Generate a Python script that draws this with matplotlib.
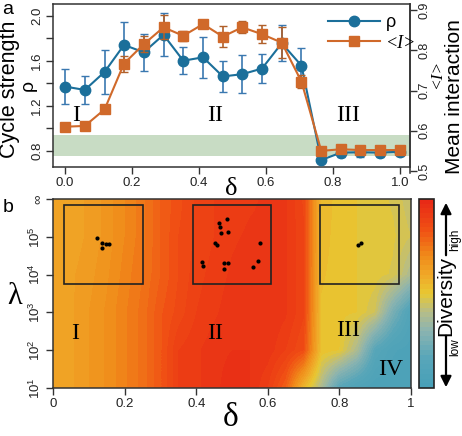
import numpy as np
import matplotlib
matplotlib.use("Agg")
import matplotlib.pyplot as plt
from matplotlib.colors import LinearSegmentedColormap
from matplotlib.patches import Rectangle
from matplotlib.lines import Line2D

plt.rcParams['font.family'] = ['Liberation Sans', 'DejaVu Sans']
plt.rcParams['mathtext.fontset'] = 'custom'
plt.rcParams['mathtext.rm'] = 'Liberation Sans'
plt.rcParams['mathtext.it'] = 'Liberation Sans:italic'

# ---- panel a data ----
delta_a = [0.0, 0.059, 0.118, 0.176, 0.235, 0.294, 0.353, 0.412, 0.471,
           0.529, 0.588, 0.647, 0.706, 0.765, 0.824, 0.882, 0.941, 1.0]
rho = [1.37, 1.34, 1.50, 1.74, 1.675, 1.83, 1.60, 1.63, 1.46,
       1.48, 1.53, 1.755, 1.556, 0.717, 0.783, 0.786, 0.783, 0.791]
rho_err = [0.155, 0.125, 0.195, 0.205, 0.165, 0.19, 0.12, 0.185, 0.14,
           0.17, 0.13, 0.16, 0.16, 0.0, 0.04, 0.04, 0.04, 0.04]
mean_I = [0.610, 0.612, 0.653, 0.767, 0.815, 0.857, 0.836, 0.865, 0.834,
          0.857, 0.840, 0.819, 0.722, 0.550, 0.554, 0.552, 0.552, 0.552]
mean_I_err = [0.004, 0.004, 0.006, 0.02, 0.02, 0.03, 0.013, 0.01, 0.027,
              0.015, 0.023, 0.038, 0.016, 0.005, 0.005, 0.005, 0.005, 0.005]
band = (0.75, 0.94)

# ---- panel b data ----
delta_b = [0.0, 0.05, 0.1, 0.15, 0.2, 0.25, 0.3, 0.35, 0.4, 0.45, 0.5,
           0.55, 0.6, 0.65, 0.7, 0.75, 0.8, 0.85, 0.9, 0.95, 1.0]
log_lambda = [1, 2, 3, 4, 5, 6]
diversity = [
    [.60, .62, .65, .68, .72, .76, .82, .90, .92, .94, .97, .95, .90, .80, .55, .38, .15, .08, .05, .05, .05],
    [.60, .62, .65, .68, .72, .76, .82, .90, .92, .94, .95, .95, .94, .90, .85, .52, .50, .38, .15, .08, .06],
    [.60, .62, .65, .68, .72, .76, .82, .86, .90, .92, .94, .95, .95, .93, .88, .52, .51, .50, .45, .25, .10],
    [.60, .62, .64, .67, .71, .75, .80, .85, .89, .91, .93, .94, .94, .93, .88, .53, .51, .50, .49, .47, .38],
    [.60, .61, .63, .66, .70, .74, .80, .85, .88, .90, .92, .93, .93, .93, .88, .54, .51, .50, .49, .48, .45],
    [.60, .61, .63, .66, .70, .74, .80, .84, .88, .90, .91, .92, .93, .93, .87, .55, .51, .50, .49, .47, .43],
]
# inset boxes (delta left, delta right) and attractor points
box_x = [(0.03, 0.25), (0.39, 0.61), (0.747, 0.967)]
box_y = (3.76, 5.84)
dots_d = [0.122, 0.136, 0.136, 0.149, 0.157,
          0.415, 0.420, 0.453, 0.457, 0.464, 0.466, 0.468, 0.485, 0.488,
          0.478, 0.478, 0.490, 0.579, 0.572, 0.560,
          0.852, 0.860]
dots_l = [4.98, 4.84, 4.70, 4.81, 4.80,
          4.34, 4.23, 4.84, 4.78, 5.36, 5.27, 5.09, 5.46, 5.13,
          4.32, 4.14, 4.32, 4.83, 4.37, 4.19,
          4.79, 4.83]

blue = '#1b6f9a'
orange = '#d0692a'
green = '#c8dcc4'
spine = '#333333'

W, H = 462, 436
fig = plt.figure(figsize=(4.62, 4.36), dpi=100)


def box(l, t, r, b):
    return [l / W, 1 - b / H, (r - l) / W, (b - t) / H]


def ftext(x, y, s, **kw):
    fig.text(x / W, 1 - y / H, s, ha='center', va='center', **kw)


def style(a):
    for s in a.spines.values():
        s.set_color(spine)
        s.set_linewidth(1.1)
    a.tick_params(direction='out', length=5, width=1, color=spine,
                  labelsize=9.5, labelcolor='#222222', pad=2)


# ---------- panel a ----------
ax = fig.add_axes(box(53, 4, 410, 167))
style(ax)
ax.axhspan(band[0], band[1], color=green, lw=0, zorder=0)
ax.errorbar(delta_a, rho, yerr=rho_err, color=blue, marker='o', ms=7.5,
            lw=1.5, capsize=3, elinewidth=1.2, ecolor='#3a78b0', zorder=3)
ax.set_xlim(-0.036, 1.03)
ax.set_ylim(0.655, 2.104)
ax.set_xticks([0, 0.2, 0.4, 0.6, 0.8, 1.0])
ax.set_xticklabels(['0.0', '0.2', '0.4', '0.6', '0.8', '1.0'])
yt = [0.8, 1.0, 1.2, 1.4, 1.6, 1.8, 2.0]
ax.set_yticks(yt)
ax.set_yticklabels(['0.8', '', '1.2', '', '1.6', '', '2.0'], rotation=90, va='center')

ax2 = fig.add_axes(box(53, 4, 410, 173))
style(ax2)
ax2.tick_params(labelsize=9, pad=1)
ax2.patch.set_visible(False)
for s in ['left', 'top', 'bottom']:
    ax2.spines[s].set_visible(False)
ax2.errorbar(delta_a, mean_I, yerr=mean_I_err, color=orange, marker='s', ms=6.5,
             lw=1.5, capsize=3, elinewidth=1.2, ecolor='#b0602a', zorder=3)
ax2.set_xlim(-0.036, 1.03)
ax2.set_ylim(0.495, 0.915)
ax2.set_xticks([])
ax2.yaxis.tick_right()
ax2.set_yticks([0.5, 0.6, 0.7, 0.8, 0.9])
ax2.set_yticklabels(['0.5', '0.6', '0.7', '0.8', '0.9'], rotation=90, va='center')

for s, xx in [('I', 0.033), ('II', 0.448), ('III', 0.845)]:
    ax.text(xx, 1.117, s, ha='center', va='center', family='Liberation Serif', fontsize=17)

handles = [Line2D([], [], color=blue, marker='o', ms=7.5, lw=1.5),
           Line2D([], [], color=orange, marker='s', ms=6.5, lw=1.5)]
leg = ax2.legend(handles, ['ρ', '<I>'], loc='upper left', frameon=False,
                 bbox_to_anchor=(328 / W, 1 - 14 / H), bbox_transform=fig.transFigure,
                 borderpad=0, borderaxespad=0,
                 handlelength=2.9, handletextpad=0.3, labelspacing=0.2, fontsize=13)
leg.get_texts()[1].set_fontfamily('Liberation Serif')
leg.get_texts()[1].set_fontstyle('italic')

ftext(10, 89, 'Cycle strength', rotation=90, fontsize=15.5)
ftext(28, 85, 'ρ', rotation=90, fontsize=14)
ftext(437, 74, '<I>', rotation=90, fontsize=12.5, family='Liberation Serif', style='italic')
ftext(454, 97, 'Mean interaction', rotation=90, fontsize=15)
ftext(231, 189, 'δ', fontsize=19, family='Liberation Serif')
ftext(8, 9, 'a', fontsize=14)

# ---------- panel b ----------
stops = [(0.0, '#48a0b8'), (0.15, '#58a6b9'), (0.3, '#8cb4b0'), (0.4, '#b6bd88'),
         (0.5, '#e8c832'), (0.6, '#f0a828'), (0.7, '#f08c1a'), (0.85, '#f04e14'),
         (1.0, '#e82a16')]
cmap = LinearSegmentedColormap.from_list('div', stops, N=40)

axb = fig.add_axes(box(53, 199, 411, 388))
style(axb)
im = axb.imshow(np.array(diversity), extent=[-0.025, 1.025, 0.5, 6.5], origin='lower',
                aspect='auto', interpolation='bilinear', cmap=cmap, vmin=0, vmax=1)
axb.set_xlim(0, 1)
axb.set_ylim(1, 6)
for x0, x1 in box_x:
    axb.add_patch(Rectangle((x0, box_y[0]), x1 - x0, box_y[1] - box_y[0],
                            fill=False, lw=1.2, ec='#222222'))
axb.scatter(dots_d, dots_l, s=9, color='k', lw=0, zorder=4)
for s, xx, yy in [('I', 0.061, 2.45), ('II', 0.452, 2.45), ('III', 0.824, 2.53), ('IV', 0.944, 1.48)]:
    axb.text(xx, yy, s, ha='center', va='center', family='Liberation Serif', fontsize=17)
axb.set_xticks([0, 0.2, 0.4, 0.6, 0.8, 1.0])
axb.set_xticklabels(['0', '0.2', '0.4', '0.6', '0.8', '1'])
axb.set_yticks(log_lambda)
axb.set_yticklabels([r'$\mathregular{10^{%d}}$' % v for v in log_lambda[:-1]] + ['∞'],
                    rotation=90, va='center')
ftext(15, 296, 'λ', fontsize=22, family='Liberation Serif')
ftext(231, 418, 'δ', fontsize=24, family='Liberation Serif')
ftext(8, 207, 'b', fontsize=14)

cax = fig.add_axes(box(419, 199, 434, 388))
cb = fig.colorbar(im, cax=cax)
cb.set_ticks([])
cb.outline.set_linewidth(1.2)
cb.outline.set_edgecolor('#222222')

arrow = dict(arrowstyle='-|>', lw=1.6, color='k', mutation_scale=16)
axb.annotate('', xy=(446, H - 200), xytext=(446, H - 258), xycoords='figure pixels',
             arrowprops=arrow, annotation_clip=False)
axb.annotate('', xy=(446, H - 390), xytext=(446, H - 333), xycoords='figure pixels',
             arrowprops=arrow, annotation_clip=False)
ftext(446, 296, 'Diversity', rotation=90, fontsize=15)
ftext(455, 240, 'high', rotation=90, fontsize=8.5)
ftext(455, 347, 'low', rotation=90, fontsize=8.5)

fig.savefig('out.png', dpi=100)
